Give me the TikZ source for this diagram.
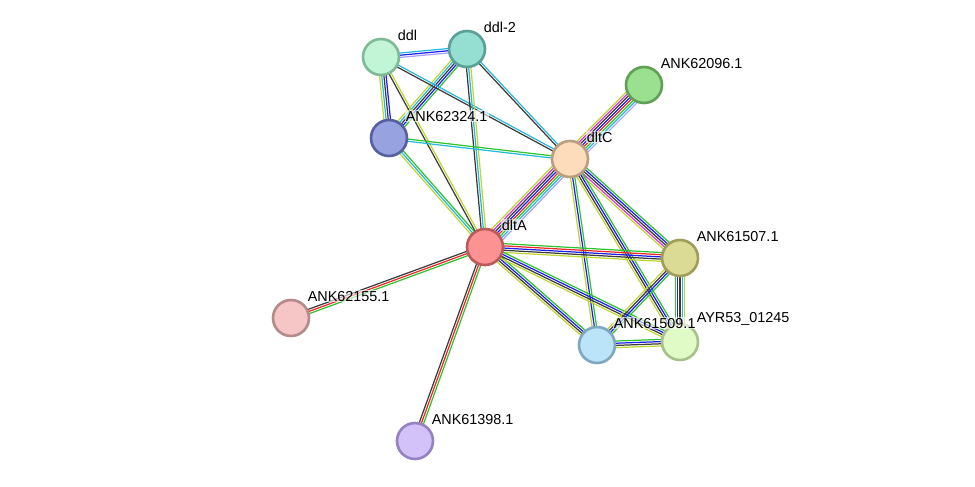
\documentclass[tikz,border=0pt]{standalone}
\usepackage{fontspec}
\setsansfont{Liberation Sans}
\usepackage{tikz}
\usepackage{xcolor}
\usetikzlibrary{calc, backgrounds}
\definecolor{cNbh}{RGB}{46,196,46}
\definecolor{cFus}{RGB}{240,40,40}
\definecolor{cCooc}{RGB}{30,30,240}
\definecolor{cCoexp}{RGB}{60,60,60}
\definecolor{cExp}{RGB}{214,56,214}
\definecolor{cDb}{RGB}{40,186,222}
\definecolor{cTm}{RGB}{192,214,48}
\definecolor{cHom}{RGB}{168,160,250}
\tikzset{
	prot/.style ={circle, minimum size=0.72cm, inner sep=0pt, line width=1.5pt},
	lbl/.style  ={font=\sffamily\fontsize{8.2}{9}\selectfont, anchor=south west, inner sep=0.6pt,
		fill=white, fill opacity=0.6, text opacity=1, xshift=1pt, yshift=1pt},
	edge/.style ={line width=0.7pt},
}
% one line per evidence colour, spread across the link
\newcommand{\lnk}[3]{%
	\foreach \col [count=\i] in {#3} {\xdef\nlines{\i}}%
	\foreach \col [count=\i] in {#3} {%
		\pgfmathsetmacro{\off}{(\i-(\nlines+1)/2)*1.25}%
		\draw[edge, \col] ($(#1.center)!\off pt!90:(#2.center)$) -- ($(#2.center)!\off pt!-90:(#1.center)$);
	}%
}

\begin{document}
\begin{tikzpicture}[x=0.02cm, y=-0.02cm]
	\useasboundingbox (0,0) rectangle (975,487);
	\node[prot, fill={rgb,255:red,194;green,245;blue,214}, draw={rgb,255:red,127;green,186;blue,151}] (ddl) at (381,57) {};
	\node[prot, fill={rgb,255:red,148;green,223;blue,210}, draw={rgb,255:red,90;green,160;blue,150}] (ddl2) at (467,49) {};
	\node[prot, fill={rgb,255:red,151;green,162;blue,224}, draw={rgb,255:red,86;green,96;blue,160}] (k324) at (389,138) {};
	\node[prot, fill={rgb,255:red,253;green,220;blue,187}, draw={rgb,255:red,185;green,159;blue,128}] (dltC) at (570,159) {};
	\node[prot, fill={rgb,255:red,155;green,223;blue,144}, draw={rgb,255:red,95;green,160;blue,85}] (k096) at (644,85) {};
	\node[prot, fill={rgb,255:red,252;green,146;blue,146}, draw={rgb,255:red,187;green,90;blue,90}] (dltA) at (485,247) {};
	\node[prot, fill={rgb,255:red,220;green,219;blue,149}, draw={rgb,255:red,158;green,157;blue,90}] (k507) at (680,258) {};
	\node[prot, fill={rgb,255:red,246;green,198;blue,198}, draw={rgb,255:red,181;green,138;blue,138}] (k155) at (291,318) {};
	\node[prot, fill={rgb,255:red,188;green,228;blue,248}, draw={rgb,255:red,127;green,168;blue,192}] (k509) at (597,345) {};
	\node[prot, fill={rgb,255:red,224;green,251;blue,198}, draw={rgb,255:red,167;green,192;blue,140}] (ayr) at (680,342) {};
	\node[prot, fill={rgb,255:red,210;green,194;blue,249}, draw={rgb,255:red,149;green,130;blue,192}] (k398) at (415,441) {};
	% names on top of every circle
	\foreach \n/\t in {ddl/ddl, ddl2/ddl-2, k324/ANK62324.1, dltC/dltC, k096/ANK62096.1, dltA/dltA,
		k507/ANK61507.1, k155/ANK62155.1, k509/ANK61509.1, ayr/AYR53\_01245, k398/ANK61398.1}
		\node[lbl] (\n-l) at (\n.45) {\t};
	\begin{scope}[on background layer]
		\lnk{ddl}{ddl2}{cHom,cCooc,cDb}
		\lnk{ddl}{k324}{cTm,cDb,cCoexp,cCooc}
		\lnk{ddl2}{k324}{cTm,cDb,cCoexp,cCooc,cNbh}
		\lnk{ddl}{dltC}{cCoexp,cDb}
		\lnk{ddl2}{dltC}{cCoexp,cDb}
		\lnk{ddl}{dltA}{cCoexp,cTm}
		\lnk{ddl2}{dltA}{cCoexp,cDb,cTm}
		\lnk{k324}{dltA}{cTm,cDb,cNbh}
		\lnk{k324}{dltC}{cDb,cNbh}
		\lnk{dltC}{k096}{cHom,cDb,cNbh,cFus,cCooc,cCoexp,cExp,cTm}
		\lnk{dltA}{dltC}{cHom,cDb,cNbh,cFus,cCooc,cCoexp,cExp,cTm}
		\lnk{dltC}{k507}{cTm,cExp,cCoexp,cCooc,cNbh}
		\lnk{dltC}{k509}{cTm,cCooc,cNbh}
		\lnk{dltC}{ayr}{cTm,cCoexp,cCooc,cNbh}
		\lnk{dltA}{k507}{cTm,cCoexp,cCooc,cFus,cNbh}
		\lnk{dltA}{k509}{cTm,cCoexp,cCooc,cNbh}
		\lnk{dltA}{ayr}{cTm,cCoexp,cCooc,cNbh}
		\lnk{dltA}{k155}{cCoexp,cFus,cNbh}
		\lnk{dltA}{k398}{cCoexp,cFus,cNbh}
		\lnk{k507}{k509}{cTm,cCoexp,cCooc,cNbh}
		\lnk{k507}{ayr}{cNbh,cCooc,cCoexp,cDb,cTm}
		\lnk{k509}{ayr}{cTm,cCoexp,cCooc,cNbh}
	\end{scope}
\end{tikzpicture}
\end{document}
